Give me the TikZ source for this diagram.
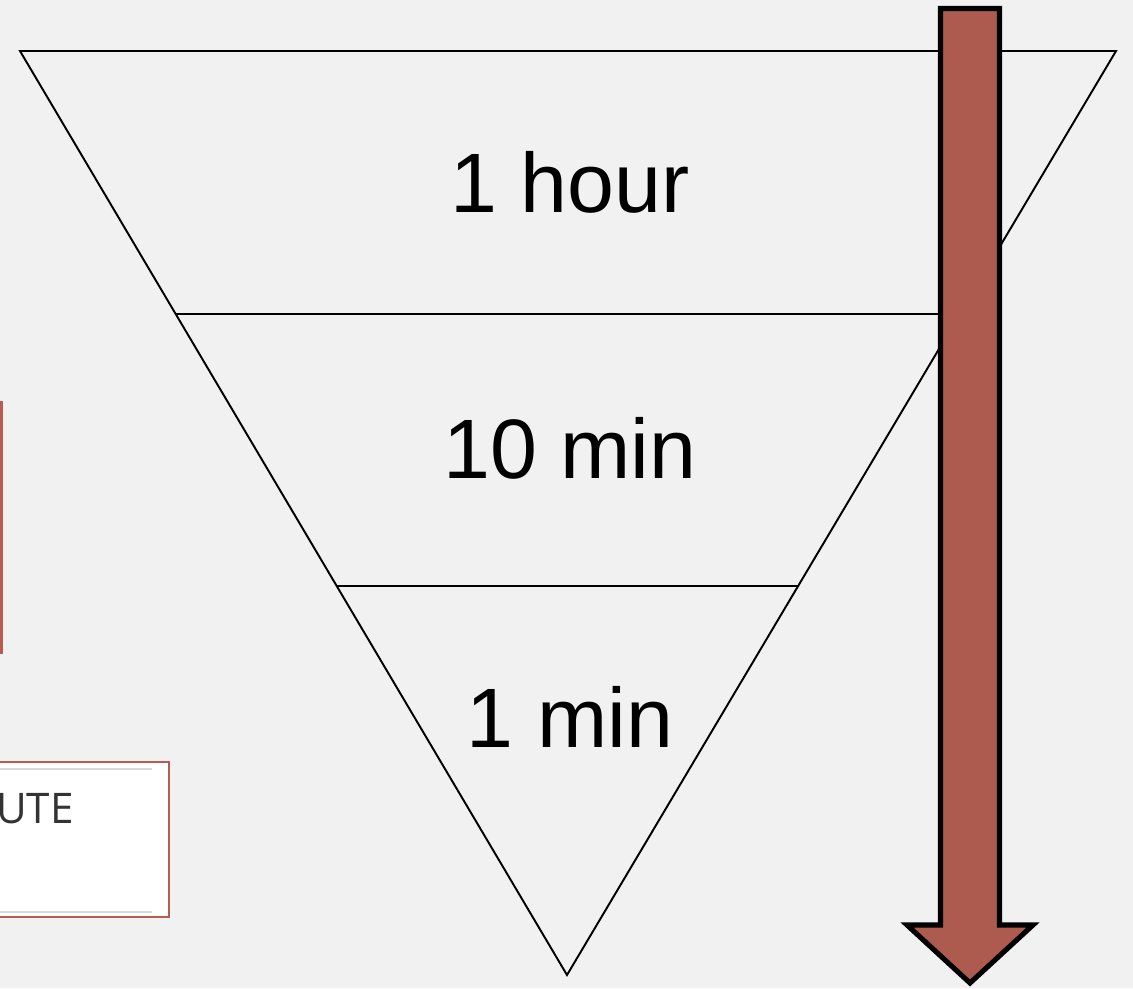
\documentclass[tikz,border=0pt]{standalone}
\usepackage{fontspec}
\setmainfont{Liberation Sans}
\newfontfamily\uifont{Open Sans}
\usetikzlibrary{calc}
\definecolor{pagebg}{HTML}{F1F1F1}
\definecolor{brick}{HTML}{AD5B4F}
\definecolor{frameline}{HTML}{B85C4E}
\definecolor{rulegray}{HTML}{D9D9D9}

\begin{document}
\begin{tikzpicture}[x=0.02cm, y=-0.02cm,
  funnel/.style={draw=black, line width=1.1pt, line join=miter},
  level/.style={font=\fontsize{48}{58}\selectfont, anchor=base, inner sep=0pt},
  panel/.style={draw=frameline, line width=1.4pt, fill=white},
  rule/.style={draw=rulegray, line width=1.2pt},
  bigarrow/.style={draw=black, line width=2.9pt, fill=brick, line join=miter}
]
\useasboundingbox (0,0) rectangle (1133,988);
\clip (0,0) rectangle (1133,988);
\fill[pagebg] (0,0) rectangle (1133,988);

% cut-off panels at the left edge
\draw[panel, fill=pagebg] (-100,402) rectangle (1.5,653);
\draw[panel] (-100,762) rectangle (169,917);
\draw[rule] (-100,769) -- (152,769);
\draw[rule] (-100,912) -- (152,912);
\node[font=\uifont\fontsize{24}{29}\selectfont, text=black!80, anchor=base east,
      inner sep=0pt] (cut) at (74,823) {UTE};

% the funnel
\coordinate (tl) at (20,51);
\coordinate (tr) at (1116,51);
\coordinate (apex) at (567,975);
\draw[funnel] (tl) -- (tr) -- (apex) -- cycle;
\draw[funnel] ($(tl)!0.2846!(apex)$) -- ($(tr)!0.2846!(apex)$);
\draw[funnel] ($(tl)!0.579!(apex)$) -- ($(tr)!0.579!(apex)$);

\node[level] (hour) at (570,212) {1 hour};
\node[level] (tenmin) at (570,478) {10 min};
\node[level] (onemin) at (570,747) {1 min};

% downward arrow
\draw[bigarrow] (940.5,8.5) -- (999.5,8.5) -- (999.5,925) -- (1033,925)
  -- (970,983) -- (907,925) -- (940.5,925) -- cycle;
\end{tikzpicture}
\end{document}
